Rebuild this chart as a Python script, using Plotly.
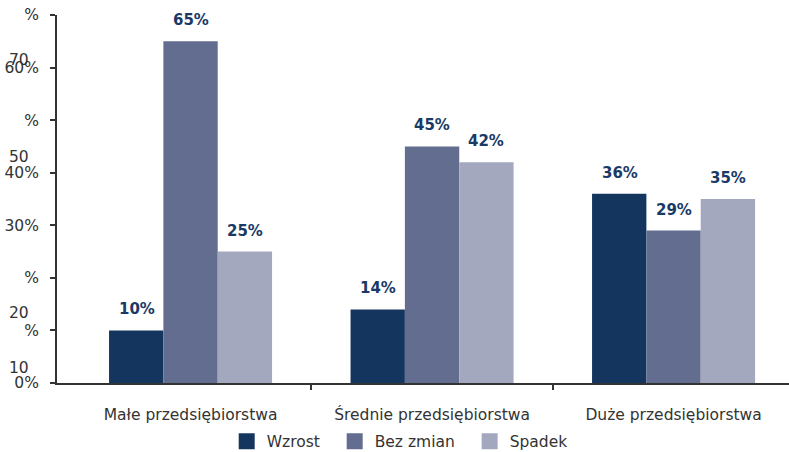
import plotly.graph_objects as go

categories = ["Małe przedsiębiorstwa", "Średnie przedsiębiorstwa", "Duże przedsiębiorstwa"]
series_names = ["Wzrost", "Bez zmian", "Spadek"]
wzrost = [10, 14, 36]
bez_zmian = [65, 45, 29]
spadek = [25, 42, 35]
y_tick_vals = [0, 10, 20, 30, 40, 50, 60, 70]
y_tick_text = ["0%", "%", "%", "30%", "40%", "%", "60%", "%"]
stray_labels = ["70", "50", "20", "10"]
stray_label_y = [61.5, 42.9, 13.3, 2.9]

colors = ["#14365e", "#636d8f", "#a3a8bf"]
label_color = "#1a3a66"
FONT = "DejaVu Sans, sans-serif"
FS = 15.5

values = [wzrost, bez_zmian, spadek]
xs = list(range(len(categories)))

fig = go.Figure()
for name, vals, col in zip(series_names, values, colors):
    fig.add_trace(go.Bar(x=xs, y=vals, name=name, showlegend=False,
                         marker=dict(color=col, line=dict(width=0))))
# legend entries with larger square swatches
for name, col in zip(series_names, colors):
    fig.add_trace(go.Scatter(x=[None], y=[None], mode="markers", name=name + "  ",
                             marker=dict(symbol="square", size=16, color=col)))

annotations = []
bar_px = 54
for j, vals in enumerate(values):
    for i, v in enumerate(vals):
        annotations.append(dict(x=i, y=v, xref="x", yref="y", text=f"<b>{v}%</b>",
                                showarrow=False, yanchor="bottom", xanchor="center",
                                xshift=(j - 1) * bar_px, yshift=10,
                                font=dict(family=FONT, size=15, color=label_color)))
for t, yv in zip(stray_labels, stray_label_y):
    annotations.append(dict(x=0, y=yv, xref="paper", yref="y", text=t, showarrow=False,
                            xanchor="left", yanchor="middle", xshift=-50,
                            font=dict(family=FONT, size=FS, color="#333333")))

fig.update_layout(
    width=789, height=452,
    margin=dict(l=57, r=0, t=15, b=69, autoexpand=False),
    plot_bgcolor="white", paper_bgcolor="white",
    barmode="group", bargap=0.325, bargroupgap=0,
    font=dict(family=FONT, size=FS, color="#333333"),
    showlegend=True,
    legend=dict(orientation="h", x=0.475, xanchor="center", y=-0.113, yanchor="top",
                font=dict(family=FONT, size=FS, color="#333333"), itemwidth=30,
                tracegroupgap=0),
    annotations=annotations,
)
fig.update_xaxes(range=[-0.553, 2.478], tickvals=xs, ticktext=categories, automargin=False,
                 ticks="", showline=True, linecolor="#333333", linewidth=2,
                 showgrid=False, zeroline=False, ticklabelstandoff=16,
                 minor=dict(tickvals=[0.5, 1.5], ticks="outside", ticklen=5,
                            tickcolor="#333333", tickwidth=2))
fig.update_yaxes(range=[0, 70], tickvals=y_tick_vals, ticktext=y_tick_text, automargin=False,
                 ticks="outside", ticklen=5, tickcolor="#333333", tickwidth=2,
                 showline=True, linecolor="#333333", linewidth=2,
                 showgrid=False, zeroline=False, ticklabelstandoff=8)

fig.write_html("out.html", config={"displayModeBar": False},
               post_script="document.body.style.margin='0';document.body.style.overflow='hidden';")
